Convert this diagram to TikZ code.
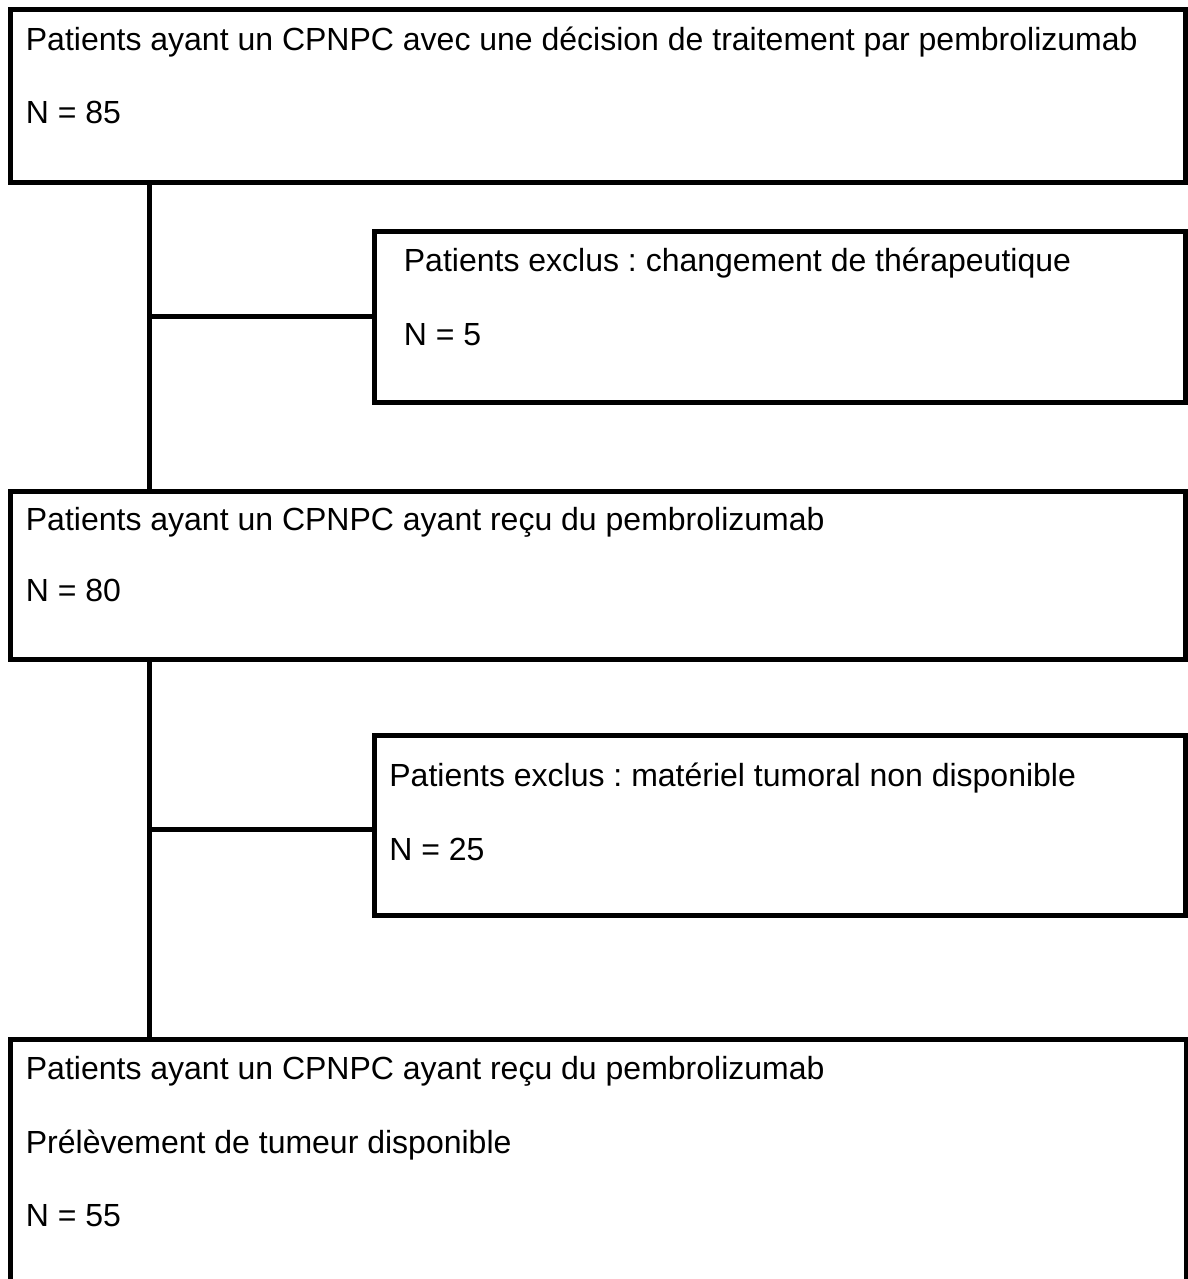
\documentclass[tikz,border=0pt]{standalone}
\usepackage{fontspec}
\setmainfont{Liberation Sans}
\frenchspacing
\begin{document}
\begin{tikzpicture}[x=0.5pt, y=-0.5pt,
    box/.style={draw, line width=2.5pt, inner sep=0pt, outer sep=0pt, anchor=north west},
    link/.style={line width=2.5pt},
    txt/.style={anchor=base west, inner sep=0pt, font=\fontsize{16pt}{19pt}\selectfont}]
    \useasboundingbox (0,0) rectangle (1188,1279);

    % Boxes of the flow chart
    \node[box, minimum width=587.5pt, minimum height=86pt] (b1) at (10.5,10) {};
    \node[box, minimum width=405.75pt, minimum height=85.25pt] (b2) at (374,231.5) {};
    \node[box, minimum width=587.5pt, minimum height=84pt] (b3) at (10.5,491.5) {};
    \node[box, minimum width=405.75pt, minimum height=89.75pt] (b4) at (374,735.5) {};
    \node[box, minimum width=587.75pt, minimum height=150pt] (b5) at (10.5,1039) {};

    % Texts
    \node[txt] (t1) at (25.5,51) {Patients ayant un CPNPC avec une décision de traitement par pembrolizumab};
    \node[txt] (n1) at (25.5,124) {N = 85};
    \node[txt] (t2) at (403.5,271.7) {Patients exclus : changement de thérapeutique};
    \node[txt] (n2) at (403.5,345) {N = 5};
    \node[txt] (t3) at (25.5,530) {Patients ayant un CPNPC ayant reçu du pembrolizumab};
    \node[txt] (n3) at (25.5,601.7) {N = 80};
    \node[txt] (t4) at (389,786) {Patients exclus : matériel tumoral non disponible};
    \node[txt] (n4) at (389,860) {N = 25};
    \node[txt] (t5) at (25.5,1079.3) {Patients ayant un CPNPC ayant reçu du pembrolizumab};
    \node[txt] (u5) at (25.5,1153.3) {Prélèvement de tumeur disponible};
    \node[txt] (n5) at (25.5,1226.7) {N = 55};

    % Connectors
    \coordinate (s1) at ([xshift=69.25pt]b1.south west);
    \coordinate (s2) at ([xshift=69.25pt]b3.south west);
    \draw[link] (s1) -- (s1 |- b3.north);
    \draw[link] (s1 |- b2.west) -- (b2.west);
    \draw[link] (s2) -- (s2 |- b5.north);
    \draw[link] (s2 |- 0,829.5) -- (b4.west |- 0,829.5);
\end{tikzpicture}
\end{document}
